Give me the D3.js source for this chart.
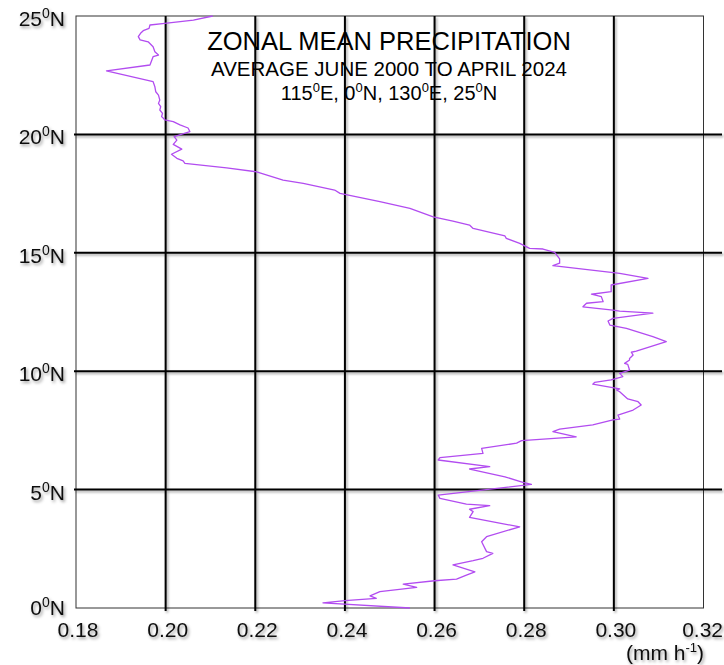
<!DOCTYPE html>
<html>
<head>
<meta charset="utf-8">
<script src="https://cdn.jsdelivr.net/npm/d3@7"></script>
<style>
  html, body { margin: 0; padding: 0; background: #fff; }
  svg { display: block; font-family: "Liberation Sans", Arial, sans-serif; }
</style>
</head>
<body>
<svg id="chart" width="724" height="665"></svg>
<script>
// ---- Data ----
const latitude = [
  0, 0.22, 0.31, 0.41, 0.51, 0.69, 0.87, 1.01, 1.15, 1.22,
  1.39, 1.53, 1.82, 2.00, 2.10, 2.31, 2.38, 2.80, 3.01, 3.43,
  3.58, 3.83, 4.07, 4.17, 4.32, 4.39, 4.63, 4.77, 5.22, 5.31,
  5.54, 5.83, 5.87, 5.97, 6.25, 6.35, 6.53, 6.74, 6.96, 7.07,
  7.23, 7.45, 7.55, 7.73, 7.94, 7.98, 8.15, 8.36, 8.57, 8.71,
  8.83, 9.13, 9.21, 9.25, 9.45, 9.53, 9.63, 9.77, 9.91, 10.05,
  10.29, 10.33, 10.47, 10.54, 10.68, 10.80, 10.85, 11.25, 11.46, 11.81,
  11.95, 12.12, 12.23, 12.45, 12.54, 12.58, 12.72, 12.87, 12.94, 13.15,
  13.25, 13.36, 13.64, 13.92, 14.13, 14.46, 14.56, 14.74, 15.02, 15.16,
  15.19, 15.40, 15.61, 15.71, 16.03, 16.17, 16.34, 16.52, 16.88, 17.16,
  17.51, 17.65, 17.93, 18.07, 18.42, 18.59, 18.78, 18.88, 18.99, 19.16,
  19.38, 19.58, 19.76, 19.91, 20.12, 20.27, 20.40, 20.54, 20.61, 20.68,
  20.75, 20.89, 21.03, 21.17, 21.31, 21.45, 21.66, 21.80, 22.01, 22.23,
  22.68, 22.93, 23.28, 23.35, 23.49, 23.70, 23.91, 23.99, 24.13, 24.27,
  24.38, 24.48, 24.62, 24.69, 24.83, 25.0
];
const precipitation = [
  0.2545, 0.2351, 0.2400, 0.2470, 0.2456, 0.2478, 0.2560, 0.2530, 0.2600, 0.2649,
  0.2671, 0.2690, 0.2641, 0.2686, 0.2708, 0.2730, 0.2716, 0.2705, 0.2716, 0.2790,
  0.2745, 0.2678, 0.2686, 0.2678, 0.2723, 0.2671, 0.2612, 0.2608, 0.2816, 0.2797,
  0.2757, 0.2686, 0.2678, 0.2723, 0.2608, 0.2612, 0.2708, 0.2705, 0.2783, 0.2794,
  0.2916, 0.2864, 0.2879, 0.2953, 0.2998, 0.3013, 0.3009, 0.3043, 0.3061, 0.3054,
  0.3031, 0.3013, 0.3006, 0.3013, 0.2953, 0.2957, 0.2994, 0.3020, 0.3013, 0.3035,
  0.3031, 0.3024, 0.3035, 0.3035, 0.3043, 0.3039, 0.3050, 0.3117, 0.3087, 0.3028,
  0.2991, 0.2987, 0.2998, 0.3087, 0.3013, 0.2998, 0.2931, 0.2939, 0.2976, 0.2972,
  0.2950, 0.2994, 0.2994, 0.3076, 0.3013, 0.2864, 0.2879, 0.2879, 0.2868, 0.2842,
  0.2812, 0.2790, 0.2760, 0.2757, 0.2686, 0.2678, 0.2641, 0.2597, 0.2545, 0.2478,
  0.2389, 0.2377, 0.2307, 0.2262, 0.2203, 0.2136, 0.2043, 0.2039, 0.2025, 0.2013,
  0.2036, 0.2017, 0.2025, 0.2019, 0.2054, 0.2050, 0.2032, 0.2017, 0.1998, 0.1995,
  0.1991, 0.1993, 0.1987, 0.1989, 0.1984, 0.1987, 0.1984, 0.1978, 0.1976, 0.1972,
  0.1868, 0.1965, 0.1972, 0.1984, 0.1976, 0.1972, 0.1961, 0.1943, 0.1939, 0.1944,
  0.1950, 0.1963, 0.1965, 0.1998, 0.2062, 0.2105
];
const xTicks = [0.18, 0.20, 0.22, 0.24, 0.26, 0.28, 0.30, 0.32];
const xTickLabels = ["0.18", "0.20", "0.22", "0.24", "0.26", "0.28", "0.30", "0.32"];
const yTicks = [0, 5, 10, 15, 20, 25];
const yTickLabels = ["0", "5", "10", "15", "20", "25"];
const titleLines = ["ZONAL MEAN PRECIPITATION", "AVERAGE JUNE 2000 TO APRIL 2024"];
const regionParts = [["115", "0", "E, "], ["0", "0", "N, "], ["130", "0", "E, "], ["25", "0", "N"]];
const unitLabel = ["(mm h", "-1", ")"];

// ---- Layout ----
(function () {
const svg = d3.select("#chart");
const pLeft = 76, pRight = 703.5, pTop = 16, pBottom = 608;
const x = d3.scaleLinear().domain([0.18, 0.32]).range([pLeft, pRight]);
const y = d3.scaleLinear().domain([0, 25]).range([pBottom, pTop]);

const defs = svg.append("defs");
const sh = defs.append("filter").attr("id", "shadow")
  .attr("x", "-20%").attr("y", "-20%").attr("width", "140%").attr("height", "140%");
sh.append("feDropShadow").attr("dx", 1.5).attr("dy", 1.8).attr("stdDeviation", 1.2)
  .attr("flood-color", "#000").attr("flood-opacity", 0.35);
const sh2 = defs.append("filter").attr("id", "tshadow")
  .attr("x", "-20%").attr("y", "-20%").attr("width", "140%").attr("height", "160%");
sh2.append("feDropShadow").attr("dx", 1.5).attr("dy", 2).attr("stdDeviation", 1.5)
  .attr("flood-color", "#000").attr("flood-opacity", 0.4);

// Plot frame (thin)
svg.append("rect")
  .attr("x", pLeft).attr("y", pTop)
  .attr("width", pRight - pLeft).attr("height", pBottom - pTop)
  .attr("fill", "none").attr("stroke", "#333").attr("stroke-width", 1);

// Grid lines
const grid = svg.append("g").attr("filter", "url(#shadow)");
grid.selectAll("line.v")
  .data(xTicks.filter(d => d > 0.185 && d < 0.315))
  .join("line").attr("class", "v")
  .attr("x1", d => x(d)).attr("x2", d => x(d))
  .attr("y1", pTop).attr("y2", pBottom + 3)
  .attr("stroke", "#000").attr("stroke-width", 2);
grid.selectAll("line.h")
  .data(yTicks.filter(d => d > 0 && d < 25))
  .join("line").attr("class", "h")
  .attr("x1", pLeft - 2).attr("x2", 722)
  .attr("y1", d => y(d)).attr("y2", d => y(d))
  .attr("stroke", "#000").attr("stroke-width", 2);

// Data line
const pts = latitude.map((lat, i) => [precipitation[i], lat]);
svg.append("path")
  .datum(pts)
  .attr("fill", "none")
  .attr("stroke", "#b24cf0")
  .attr("stroke-width", 1.3)
  .attr("stroke-linejoin", "round")
  .attr("d", d3.line().x(d => x(d[0])).y(d => y(d[1])));

// X tick labels
const xl = svg.append("g").attr("filter", "url(#tshadow)")
  .attr("font-size", 21).attr("fill", "#111");
xl.selectAll("text")
  .data(xTicks)
  .join("text")
  .attr("x", (d, i) => i === xTicks.length - 1 ? 723 : x(d) + 2)
  .attr("y", 637)
  .attr("text-anchor", (d, i) => i === xTicks.length - 1 ? "end" : "middle")
  .text((d, i) => xTickLabels[i]);

// Y tick labels with superscript degree "0"
const yl = svg.append("g").attr("filter", "url(#tshadow)")
  .attr("font-size", 21).attr("fill", "#111");
yTicks.forEach((d, i) => {
  const t = yl.append("text")
    .attr("x", 65).attr("y", y(d) + (d === 0 ? 7 : 10))
    .attr("text-anchor", "end");
  t.append("tspan").text(yTickLabels[i]);
  t.append("tspan").attr("font-size", 14).attr("dy", -8).text("0");
  t.append("tspan").attr("dy", 8).text("N");
});

// Unit label
const ul = svg.append("text")
  .attr("x", 704).attr("y", 660)
  .attr("text-anchor", "end")
  .attr("font-size", 21).attr("fill", "#111")
  .attr("filter", "url(#tshadow)");
ul.append("tspan").text(unitLabel[0]);
ul.append("tspan").attr("font-size", 13).attr("dy", -8).text(unitLabel[1]);
ul.append("tspan").attr("dy", 8).text(unitLabel[2]);

// Titles
const cx = 389;
svg.append("text").attr("x", cx).attr("y", 50)
  .attr("text-anchor", "middle").attr("font-size", 25.5).attr("fill", "#000")
  .text(titleLines[0]);
svg.append("text").attr("x", cx).attr("y", 76)
  .attr("text-anchor", "middle").attr("font-size", 20.5).attr("fill", "#000")
  .text(titleLines[1]);
const rt = svg.append("text").attr("x", cx).attr("y", 100)
  .attr("text-anchor", "middle").attr("font-size", 20).attr("fill", "#000");
regionParts.forEach(p => {
  rt.append("tspan").text(p[0]);
  rt.append("tspan").attr("font-size", 13).attr("dy", -8).text(p[1]);
  rt.append("tspan").attr("dy", 8).text(p[2]);
});
})();
</script>
</body>
</html>
